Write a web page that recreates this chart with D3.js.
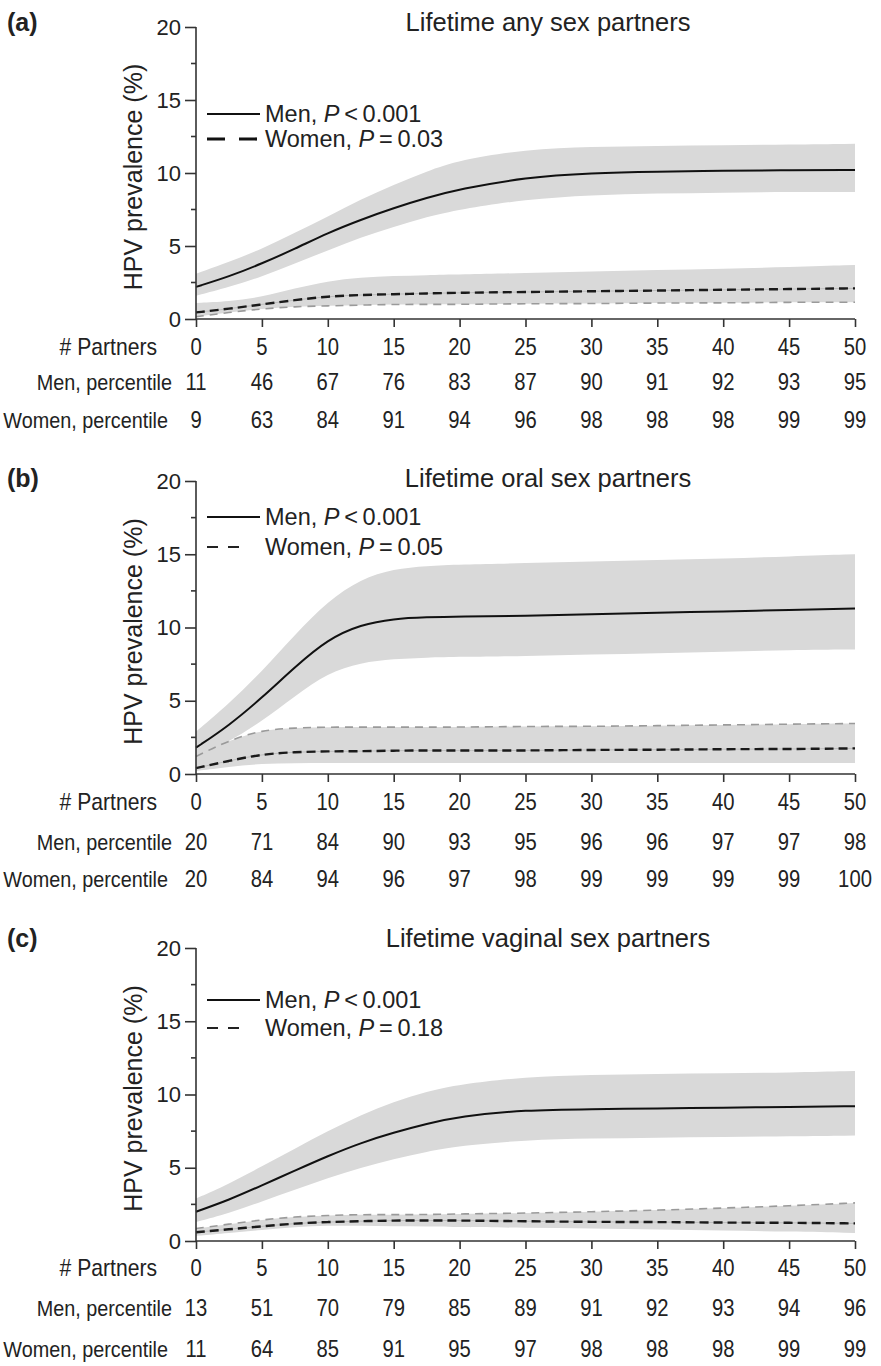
<!DOCTYPE html>
<html>
<head>
<meta charset="utf-8">
<script src="https://cdn.jsdelivr.net/npm/d3@7"></script>
<style>
  body { margin: 0; background: #fff; }
  text { fill: #222; }
</style>
</head>
<body>
<script>
var partners = [0, 2.5, 5, 7.5, 10, 12.5, 15, 17.5, 20, 25, 30, 35, 40, 45, 50];
var partnerTicks = [0, 5, 10, 15, 20, 25, 30, 35, 40, 45, 50];
var prevTicks = [0, 5, 10, 15, 20];

// (a) lifetime any sex partners
var menA     = [2.2, 2.9, 3.8, 4.8, 5.9, 6.8, 7.6, 8.3, 8.9, 9.7, 10.0, 10.1, 10.15, 10.2, 10.2];
var menAUp   = [3.1, 3.9, 4.8, 5.9, 7.0, 8.2, 9.2, 10.1, 10.9, 11.6, 11.8, 11.85, 11.9, 11.95, 12.0];
var menALo   = [1.6, 2.2, 2.9, 3.8, 4.7, 5.6, 6.3, 7.0, 7.5, 8.2, 8.5, 8.6, 8.65, 8.7, 8.7];
var womenA   = [0.45, 0.7, 1.0, 1.3, 1.55, 1.65, 1.7, 1.75, 1.8, 1.85, 1.9, 1.95, 2.0, 2.05, 2.1];
var womenAUp = [1.1, 1.2, 1.5, 2.1, 2.6, 2.85, 2.95, 3.0, 3.05, 3.15, 3.25, 3.35, 3.45, 3.55, 3.7];
var womenALo = [0.15, 0.45, 0.7, 0.85, 0.9, 0.95, 1.0, 1.0, 1.0, 1.05, 1.05, 1.1, 1.1, 1.15, 1.15];
var menPctA   = [11, 46, 67, 76, 83, 87, 90, 91, 92, 93, 95];
var womenPctA = [9, 63, 84, 91, 94, 96, 98, 98, 98, 99, 99];

// (b) lifetime oral sex partners
var menB     = [1.8, 3.3, 5.2, 7.3, 9.2, 10.2, 10.6, 10.7, 10.75, 10.8, 10.9, 11.0, 11.1, 11.2, 11.3];
var menBUp   = [2.9, 4.8, 7.0, 9.5, 11.8, 13.3, 14.0, 14.2, 14.3, 14.4, 14.5, 14.6, 14.7, 14.85, 15.0];
var menBLo   = [1.1, 2.2, 3.6, 5.3, 6.9, 7.6, 7.85, 7.95, 8.0, 8.05, 8.15, 8.25, 8.35, 8.45, 8.5];
var womenB   = [0.4, 0.9, 1.35, 1.5, 1.55, 1.55, 1.6, 1.6, 1.6, 1.6, 1.65, 1.65, 1.7, 1.7, 1.75];
var womenBUp = [1.2, 2.3, 3.0, 3.15, 3.2, 3.2, 3.2, 3.2, 3.2, 3.25, 3.25, 3.3, 3.35, 3.4, 3.45];
var womenBLo = [0.2, 0.5, 0.7, 0.75, 0.75, 0.75, 0.75, 0.75, 0.75, 0.75, 0.75, 0.75, 0.75, 0.75, 0.75];
var menPctB   = [20, 71, 84, 90, 93, 95, 96, 96, 97, 97, 98];
var womenPctB = [20, 84, 94, 96, 97, 98, 99, 99, 99, 99, 100];

// (c) lifetime vaginal sex partners
var menC     = [2.0, 2.8, 3.8, 4.8, 5.8, 6.7, 7.4, 8.0, 8.5, 8.95, 9.0, 9.05, 9.1, 9.15, 9.2];
var menCUp   = [2.9, 3.9, 5.1, 6.3, 7.5, 8.6, 9.5, 10.2, 10.7, 11.2, 11.35, 11.4, 11.45, 11.5, 11.6];
var menCLo   = [1.3, 1.9, 2.7, 3.5, 4.3, 5.0, 5.6, 6.1, 6.5, 6.9, 7.0, 7.05, 7.1, 7.15, 7.2];
var womenC   = [0.6, 0.8, 1.0, 1.2, 1.3, 1.35, 1.4, 1.4, 1.4, 1.35, 1.3, 1.3, 1.25, 1.25, 1.2];
var womenCUp = [0.85, 1.15, 1.45, 1.65, 1.75, 1.8, 1.8, 1.8, 1.85, 1.9, 2.0, 2.1, 2.25, 2.4, 2.6];
var womenCLo = [0.35, 0.55, 0.75, 0.95, 1.05, 1.05, 1.0, 1.0, 0.95, 0.9, 0.85, 0.8, 0.7, 0.65, 0.55];
var menPctC   = [13, 51, 70, 79, 85, 89, 91, 92, 93, 94, 96];
var womenPctC = [11, 64, 85, 91, 95, 97, 98, 98, 98, 99, 99];

var panels = [
  { tag: "(a)", title: "Lifetime any sex partners", menP: "<", menPv: "0.001", womenPv: "0.03",
    men: menA, menUp: menAUp, menLo: menALo, women: womenA, womenUp: womenAUp, womenLo: womenALo,
    menPct: menPctA, womenPct: womenPctA, bound: "lo",
    top: 27, zero: 319, headY: 22, legY: [114, 139], rowY: [347, 382, 420], thickKey: true },
  { tag: "(b)", title: "Lifetime oral sex partners", menP: "<", menPv: "0.001", womenPv: "0.05",
    men: menB, menUp: menBUp, menLo: menBLo, women: womenB, womenUp: womenBUp, womenLo: womenBLo,
    menPct: menPctB, womenPct: womenPctB, bound: "up",
    top: 481, zero: 774, headY: 478, legY: [517, 547], rowY: [802, 842, 879], thickKey: false },
  { tag: "(c)", title: "Lifetime vaginal sex partners", menP: "<", menPv: "0.001", womenPv: "0.18",
    men: menC, menUp: menCUp, menLo: menCLo, women: womenC, womenUp: womenCUp, womenLo: womenCLo,
    menPct: menPctC, womenPct: womenPctC, bound: "up",
    top: 948, zero: 1241, headY: 938, legY: [1000, 1028], rowY: [1268, 1308, 1349], thickKey: false }
];

var W = 881, H = 1366;
var svg = d3.select("body").append("svg")
  .attr("width", W).attr("height", H)
  .style("font-family", "'Liberation Sans', Arial, sans-serif");

var x = d3.scaleLinear().domain([0, 50]).range([196, 855]);

panels.forEach(function(p) {
  var y = d3.scaleLinear().domain([0, 20]).range([p.zero, p.top]);
  var g = svg.append("g");

  var pts = function(arr) { return partners.map(function(d, i) { return [d, arr[i]]; }); };
  var area = d3.area()
    .x(function(d, i) { return x(partners[i]); })
    .y0(function(d) { return y(d[0]); })
    .y1(function(d) { return y(d[1]); })
    .curve(d3.curveBasis);
  var line = d3.line()
    .x(function(d) { return x(d[0]); })
    .y(function(d) { return y(d[1]); })
    .curve(d3.curveBasis);

  // confidence bands
  g.append("path")
    .datum(partners.map(function(d, i) { return [p.menLo[i], p.menUp[i]]; }))
    .attr("d", area).attr("fill", "#d9d9d9");
  g.append("path")
    .datum(partners.map(function(d, i) { return [p.womenLo[i], p.womenUp[i]]; }))
    .attr("d", area).attr("fill", "#d9d9d9");

  // dashed gray bound of the women band
  g.append("path")
    .datum(pts(p.bound === "lo" ? p.womenLo : p.womenUp))
    .attr("d", line).attr("fill", "none")
    .attr("stroke", "#9a9a9a").attr("stroke-width", 1.6)
    .attr("stroke-dasharray", "8,6");

  // women estimate
  g.append("path").datum(pts(p.women)).attr("d", line)
    .attr("fill", "none").attr("stroke", "#bdbdbd").attr("stroke-width", 1);
  g.append("path").datum(pts(p.women)).attr("d", line)
    .attr("fill", "none").attr("stroke", "#1a1a1a").attr("stroke-width", 2.4)
    .attr("stroke-dasharray", "9,5");

  // men estimate
  g.append("path").datum(pts(p.men)).attr("d", line)
    .attr("fill", "none").attr("stroke", "#111").attr("stroke-width", 2);

  // y axis
  var yAxis = g.append("g").attr("transform", "translate(" + x(0) + ",0)")
    .call(d3.axisLeft(y).tickValues(prevTicks).tickSize(11).tickPadding(4));
  yAxis.selectAll(".tick text").attr("font-size", 22)
    .style("font-family", "'Liberation Sans', Arial, sans-serif").attr("fill", "#222");
  yAxis.select(".domain").attr("d", "M0," + y(0) + "V" + y(20));
  yAxis.selectAll("line, .domain").attr("stroke", "#333").attr("stroke-width", 1.6);
  yAxis.selectAll(".minor").data([2.5, 7.5, 12.5, 17.5]).enter().append("line")
    .attr("x1", -5).attr("x2", 0)
    .attr("y1", function(d) { return y(d); }).attr("y2", function(d) { return y(d); })
    .attr("stroke", "#333").attr("stroke-width", 1.6);

  // x axis
  var xAxis = g.append("g").attr("transform", "translate(0," + p.zero + ")")
    .call(d3.axisBottom(x).tickValues(partnerTicks).tickSize(8).tickFormat(""));
  xAxis.select(".domain").attr("d", "M" + x(0) + ",0H" + x(50));
  xAxis.selectAll("line, .domain").attr("stroke", "#333").attr("stroke-width", 1.6);

  // y axis title
  g.append("text")
    .attr("transform", "translate(142," + ((p.top + p.zero) / 2 + 4) + ") rotate(-90)")
    .attr("text-anchor", "middle").attr("font-size", 25)
    .text("HPV prevalence (%)");

  // panel tag and title
  g.append("text").attr("x", 7).attr("y", p.headY).attr("dy", "0.35em")
    .attr("font-size", 25).attr("font-weight", "bold").text(p.tag);
  g.append("text").attr("x", 548).attr("y", p.headY).attr("dy", "0.35em")
    .attr("text-anchor", "middle").attr("font-size", 25.5).text(p.title);

  // legend
  var lx0 = 207, lx1 = 260;
  g.append("line").attr("x1", lx0).attr("x2", lx1).attr("y1", p.legY[0]).attr("y2", p.legY[0])
    .attr("stroke", "#111").attr("stroke-width", 2);
  if (p.thickKey) {
    g.append("line").attr("x1", lx0).attr("x2", lx1).attr("y1", p.legY[1]).attr("y2", p.legY[1])
      .attr("stroke", "#111").attr("stroke-width", 3.2).attr("stroke-dasharray", "18,14");
  } else {
    g.append("line").attr("x1", lx0).attr("x2", 240).attr("y1", p.legY[1]).attr("y2", p.legY[1])
      .attr("stroke", "#222").attr("stroke-width", 2).attr("stroke-dasharray", "11,10");
  }
  var keys = [["Men, ", p.menP, p.menPv], ["Women, ", "=", p.womenPv]];
  keys.forEach(function(k, i) {
    var t = g.append("text").attr("x", 265).attr("y", p.legY[i]).attr("dy", "0.35em")
      .attr("font-size", 23.5);
    t.append("tspan").text(k[0]);
    t.append("tspan").attr("font-style", "italic").text("P");
    t.append("tspan").text("\u2009" + k[1] + "\u2009" + k[2]);
  });

  // tick labels and percentile rows (slightly condensed, as in the original)
  var rows = [
    { label: "# Partners", vals: partnerTicks, size: 24, lx: 157 },
    { label: "Men, percentile", vals: p.menPct, size: 22.5, lx: 172 },
    { label: "Women, percentile", vals: p.womenPct, size: 22.5, lx: 168 }
  ];
  rows.forEach(function(r, i) {
    var ry = p.rowY[i];
    g.append("text")
      .attr("transform", "translate(" + r.lx + "," + ry + ") scale(0.88,1)")
      .attr("dy", "0.35em")
      .attr("text-anchor", "end").attr("font-size", r.size).text(r.label);
    g.selectAll(".row" + i).data(r.vals).enter().append("text")
      .attr("transform", function(d, j) {
        return "translate(" + x(partnerTicks[j]) + "," + ry + ") scale(0.88,1)";
      })
      .attr("dy", "0.35em")
      .attr("text-anchor", "middle").attr("font-size", 23)
      .text(function(d) { return d; });
  });
});
</script>
</body>
</html>
